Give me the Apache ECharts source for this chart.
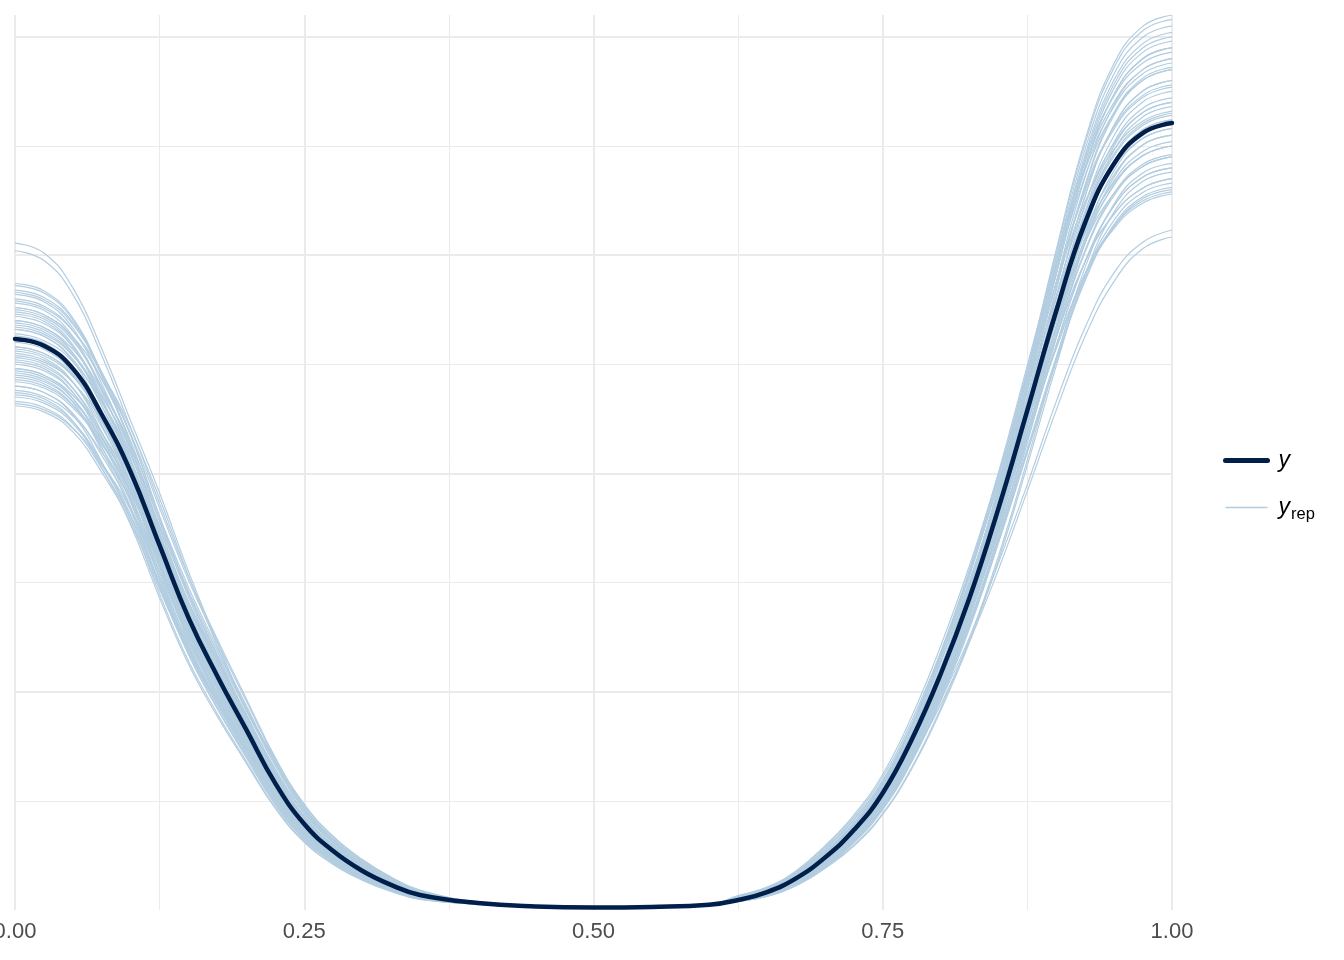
<!DOCTYPE html>
<html>
<head>
<meta charset="utf-8">
<script src="https://cdn.jsdelivr.net/npm/echarts@6/dist/echarts.min.js"></script>
<style>
html,body{margin:0;padding:0;background:#fff;}
#chart{width:1344px;height:960px;}
</style>
</head>
<body>
<div id="chart"></div>
<script>
const xGrid = [0, 0.025, 0.05, 0.075, 0.1, 0.125, 0.15, 0.175, 0.2, 0.225, 0.25, 0.275, 0.3, 0.325, 0.35,
               0.4, 0.45, 0.5, 0.55, 0.6, 0.625,
               0.65, 0.675, 0.7, 0.725, 0.75, 0.775, 0.8, 0.825, 0.85, 0.875, 0.9, 0.925, 0.95, 0.975, 1];
const xTickLabels = ['0.00', '0.25', '0.50', '0.75', '1.00'];
const legendLabels = ['y', 'y_rep'];

// observed density (y)
const yObs = [2.616, 2.585, 2.48, 2.27, 2.006, 1.67, 1.338, 1.07, 0.825, 0.58, 0.394, 0.27, 0.18, 0.115, 0.069,
              0.032, 0.016, 0.011, 0.014, 0.024, 0.046,
              0.082, 0.145, 0.24, 0.366, 0.536, 0.78, 1.08, 1.43, 1.84, 2.29, 2.745, 3.15, 3.42, 3.56, 3.605];

// replicated densities (y_rep)
const yRep = [
  [2.32, 2.292, 2.206, 2.044, 1.833, 1.547, 1.269, 1.030, 0.804, 0.580, 0.404, 0.281, 0.193, 0.125, 0.075, 0.034, 0.016, 0.011, 0.013, 0.021, 0.045, 0.073, 0.130, 0.222, 0.343, 0.512, 0.755, 1.067, 1.434, 1.872, 2.382, 2.915, 3.401, 3.737, 3.901, 3.95],
  [2.35, 2.322, 2.228, 2.040, 1.802, 1.492, 1.201, 0.961, 0.740, 0.522, 0.355, 0.242, 0.162, 0.103, 0.061, 0.030, 0.015, 0.011, 0.013, 0.021, 0.044, 0.070, 0.125, 0.214, 0.330, 0.493, 0.726, 1.026, 1.379, 1.801, 2.291, 2.804, 3.272, 3.595, 3.753, 3.80],
  [2.38, 2.351, 2.263, 2.097, 1.880, 1.587, 1.302, 1.057, 0.825, 0.595, 0.414, 0.288, 0.198, 0.129, 0.077, 0.034, 0.016, 0.011, 0.013, 0.021, 0.046, 0.075, 0.133, 0.228, 0.352, 0.525, 0.774, 1.094, 1.470, 1.920, 2.442, 2.989, 3.487, 3.831, 3.999, 4.05],
  [2.40, 2.371, 2.275, 2.083, 1.841, 1.524, 1.226, 0.982, 0.756, 0.533, 0.362, 0.247, 0.166, 0.106, 0.062, 0.030, 0.015, 0.011, 0.013, 0.022, 0.052, 0.085, 0.148, 0.248, 0.376, 0.551, 0.799, 1.110, 1.469, 1.887, 2.350, 2.816, 3.234, 3.511, 3.654, 3.70],
  [2.42, 2.391, 2.301, 2.132, 1.912, 1.614, 1.324, 1.074, 0.839, 0.605, 0.421, 0.293, 0.201, 0.131, 0.079, 0.034, 0.016, 0.011, 0.013, 0.021, 0.045, 0.072, 0.128, 0.220, 0.339, 0.505, 0.745, 1.053, 1.416, 1.849, 2.352, 2.878, 3.358, 3.689, 3.851, 3.90],
  [2.44, 2.411, 2.313, 2.118, 1.871, 1.549, 1.247, 0.998, 0.769, 0.542, 0.368, 0.251, 0.168, 0.107, 0.063, 0.030, 0.015, 0.011, 0.013, 0.022, 0.051, 0.083, 0.144, 0.241, 0.365, 0.536, 0.778, 1.080, 1.429, 1.836, 2.286, 2.740, 3.146, 3.416, 3.555, 3.60],
  [2.46, 2.430, 2.325, 2.103, 1.830, 1.483, 1.169, 0.920, 0.697, 0.482, 0.322, 0.216, 0.143, 0.089, 0.051, 0.027, 0.014, 0.011, 0.013, 0.022, 0.054, 0.089, 0.154, 0.258, 0.391, 0.574, 0.832, 1.155, 1.529, 1.964, 2.445, 2.930, 3.365, 3.654, 3.802, 3.85],
  [2.48, 2.450, 2.358, 2.185, 1.959, 1.654, 1.357, 1.101, 0.859, 0.620, 0.432, 0.300, 0.206, 0.134, 0.081, 0.035, 0.016, 0.011, 0.013, 0.021, 0.046, 0.075, 0.134, 0.231, 0.356, 0.531, 0.783, 1.107, 1.488, 1.943, 2.472, 3.026, 3.530, 3.879, 4.049, 4.10],
  [2.50, 2.470, 2.370, 2.170, 1.918, 1.588, 1.278, 1.023, 0.788, 0.555, 0.378, 0.258, 0.173, 0.110, 0.065, 0.030, 0.015, 0.011, 0.013, 0.022, 0.050, 0.081, 0.140, 0.235, 0.355, 0.522, 0.756, 1.050, 1.390, 1.785, 2.223, 2.664, 3.059, 3.322, 3.456, 3.50],
  [2.52, 2.490, 2.389, 2.187, 1.933, 1.600, 1.288, 1.031, 0.794, 0.559, 0.381, 0.260, 0.174, 0.111, 0.066, 0.030, 0.015, 0.011, 0.013, 0.021, 0.043, 0.069, 0.123, 0.211, 0.326, 0.486, 0.716, 1.013, 1.361, 1.778, 2.261, 2.768, 3.229, 3.548, 3.703, 3.75],
  [2.54, 2.510, 2.416, 2.238, 2.007, 1.694, 1.389, 1.128, 0.880, 0.635, 0.442, 0.307, 0.211, 0.137, 0.083, 0.035, 0.016, 0.011, 0.013, 0.022, 0.048, 0.078, 0.136, 0.228, 0.345, 0.507, 0.734, 1.020, 1.350, 1.734, 2.159, 2.587, 2.972, 3.227, 3.358, 3.40],
  [2.56, 2.529, 2.419, 2.189, 1.905, 1.544, 1.216, 0.957, 0.726, 0.502, 0.335, 0.225, 0.148, 0.092, 0.053, 0.027, 0.014, 0.011, 0.013, 0.021, 0.045, 0.073, 0.130, 0.222, 0.343, 0.512, 0.755, 1.067, 1.434, 1.872, 2.382, 2.915, 3.401, 3.737, 3.901, 3.95],
  [2.58, 2.549, 2.446, 2.239, 1.979, 1.638, 1.318, 1.055, 0.813, 0.573, 0.390, 0.266, 0.178, 0.114, 0.067, 0.030, 0.015, 0.011, 0.013, 0.022, 0.052, 0.084, 0.146, 0.245, 0.370, 0.544, 0.788, 1.095, 1.449, 1.862, 2.318, 2.778, 3.190, 3.464, 3.604, 3.65],
  [2.60, 2.569, 2.457, 2.223, 1.934, 1.568, 1.235, 0.972, 0.737, 0.510, 0.341, 0.229, 0.151, 0.094, 0.054, 0.027, 0.014, 0.011, 0.013, 0.021, 0.041, 0.065, 0.116, 0.200, 0.308, 0.460, 0.678, 0.959, 1.289, 1.683, 2.141, 2.620, 3.057, 3.358, 3.506, 3.55],
  [2.62, 2.589, 2.484, 2.274, 2.010, 1.664, 1.339, 1.072, 0.825, 0.582, 0.396, 0.270, 0.181, 0.115, 0.068, 0.031, 0.015, 0.011, 0.014, 0.024, 0.060, 0.099, 0.169, 0.277, 0.410, 0.587, 0.835, 1.139, 1.487, 1.884, 2.301, 2.705, 3.060, 3.284, 3.407, 3.45],
  [2.64, 2.608, 2.511, 2.326, 2.086, 1.761, 1.444, 1.172, 0.915, 0.660, 0.459, 0.319, 0.219, 0.143, 0.086, 0.035, 0.016, 0.011, 0.013, 0.021, 0.044, 0.071, 0.126, 0.217, 0.334, 0.499, 0.735, 1.040, 1.398, 1.825, 2.322, 2.841, 3.315, 3.642, 3.802, 3.85],
  [2.66, 2.628, 2.514, 2.274, 1.979, 1.604, 1.264, 0.995, 0.754, 0.521, 0.348, 0.234, 0.154, 0.096, 0.055, 0.027, 0.014, 0.011, 0.013, 0.022, 0.047, 0.076, 0.132, 0.221, 0.335, 0.492, 0.713, 0.990, 1.310, 1.683, 2.096, 2.511, 2.884, 3.132, 3.259, 3.30],
  [2.68, 2.648, 2.541, 2.326, 2.056, 1.702, 1.369, 1.096, 0.844, 0.595, 0.405, 0.276, 0.185, 0.118, 0.070, 0.031, 0.015, 0.011, 0.013, 0.021, 0.042, 0.068, 0.121, 0.208, 0.321, 0.480, 0.707, 0.999, 1.343, 1.754, 2.231, 2.731, 3.186, 3.500, 3.654, 3.70],
  [2.70, 2.668, 2.552, 2.309, 2.009, 1.628, 1.283, 1.010, 0.765, 0.529, 0.354, 0.238, 0.157, 0.097, 0.056, 0.027, 0.014, 0.011, 0.013, 0.022, 0.051, 0.083, 0.144, 0.241, 0.365, 0.536, 0.778, 1.080, 1.429, 1.836, 2.286, 2.740, 3.146, 3.416, 3.555, 3.60],
  [2.72, 2.687, 2.579, 2.361, 2.086, 1.727, 1.390, 1.112, 0.857, 0.604, 0.411, 0.280, 0.188, 0.120, 0.071, 0.031, 0.015, 0.011, 0.014, 0.024, 0.059, 0.096, 0.164, 0.269, 0.398, 0.570, 0.811, 1.106, 1.444, 1.829, 2.234, 2.626, 2.971, 3.189, 3.308, 3.35],
  [2.74, 2.707, 2.589, 2.343, 2.039, 1.652, 1.302, 1.025, 0.777, 0.537, 0.359, 0.241, 0.159, 0.099, 0.057, 0.027, 0.014, 0.011, 0.013, 0.021, 0.045, 0.073, 0.130, 0.222, 0.343, 0.512, 0.755, 1.067, 1.434, 1.872, 2.382, 2.915, 3.401, 3.737, 3.901, 3.95],
  [2.76, 2.727, 2.616, 2.396, 2.117, 1.753, 1.410, 1.129, 0.869, 0.613, 0.417, 0.284, 0.190, 0.121, 0.072, 0.031, 0.015, 0.011, 0.013, 0.022, 0.050, 0.081, 0.140, 0.235, 0.355, 0.522, 0.756, 1.050, 1.390, 1.785, 2.223, 2.664, 3.059, 3.322, 3.456, 3.50],
  [2.78, 2.747, 2.627, 2.377, 2.068, 1.676, 1.321, 1.040, 0.788, 0.545, 0.364, 0.245, 0.161, 0.100, 0.058, 0.027, 0.014, 0.011, 0.013, 0.022, 0.048, 0.078, 0.136, 0.228, 0.345, 0.507, 0.734, 1.020, 1.350, 1.734, 2.159, 2.587, 2.972, 3.227, 3.358, 3.40],
  [2.80, 2.766, 2.654, 2.430, 2.148, 1.778, 1.431, 1.145, 0.882, 0.622, 0.423, 0.288, 0.193, 0.123, 0.073, 0.031, 0.015, 0.011, 0.013, 0.021, 0.044, 0.070, 0.125, 0.214, 0.330, 0.493, 0.726, 1.026, 1.379, 1.801, 2.291, 2.804, 3.272, 3.595, 3.753, 3.80],
  [2.82, 2.786, 2.665, 2.411, 2.098, 1.700, 1.340, 1.055, 0.799, 0.553, 0.369, 0.248, 0.164, 0.102, 0.059, 0.027, 0.014, 0.011, 0.014, 0.024, 0.058, 0.094, 0.161, 0.264, 0.390, 0.558, 0.794, 1.082, 1.414, 1.791, 2.188, 2.572, 2.909, 3.123, 3.239, 3.28],
  [2.84, 2.806, 2.692, 2.465, 2.178, 1.803, 1.451, 1.162, 0.895, 0.630, 0.429, 0.293, 0.196, 0.125, 0.074, 0.031, 0.015, 0.011, 0.013, 0.022, 0.051, 0.082, 0.142, 0.238, 0.360, 0.529, 0.767, 1.065, 1.409, 1.811, 2.254, 2.702, 3.103, 3.369, 3.506, 3.55],
  [2.87, 2.836, 2.712, 2.454, 2.135, 1.731, 1.363, 1.073, 0.814, 0.563, 0.376, 0.253, 0.166, 0.103, 0.060, 0.028, 0.014, 0.011, 0.013, 0.022, 0.049, 0.079, 0.138, 0.231, 0.350, 0.514, 0.745, 1.035, 1.370, 1.760, 2.191, 2.626, 3.015, 3.274, 3.407, 3.45],
  [2.45, 2.421, 2.330, 2.158, 1.936, 1.634, 1.340, 1.088, 0.849, 0.613, 0.426, 0.296, 0.203, 0.132, 0.080, 0.035, 0.016, 0.011, 0.014, 0.024, 0.059, 0.096, 0.164, 0.269, 0.398, 0.570, 0.811, 1.106, 1.444, 1.829, 2.234, 2.626, 2.971, 3.189, 3.308, 3.35],
  [2.36, 2.332, 2.237, 2.048, 1.810, 1.499, 1.206, 0.965, 0.743, 0.524, 0.356, 0.243, 0.163, 0.104, 0.061, 0.030, 0.015, 0.011, 0.014, 0.024, 0.062, 0.101, 0.172, 0.281, 0.416, 0.595, 0.847, 1.155, 1.509, 1.911, 2.335, 2.744, 3.105, 3.332, 3.456, 3.50],
  [2.66, 2.628, 2.522, 2.309, 2.040, 1.689, 1.359, 1.088, 0.838, 0.591, 0.402, 0.274, 0.184, 0.117, 0.069, 0.031, 0.015, 0.011, 0.013, 0.021, 0.046, 0.074, 0.131, 0.225, 0.347, 0.518, 0.764, 1.080, 1.452, 1.896, 2.412, 2.952, 3.444, 3.784, 3.950, 4.00],
  [2.53, 2.500, 2.391, 2.163, 1.882, 1.526, 1.202, 0.946, 0.717, 0.496, 0.331, 0.223, 0.147, 0.091, 0.053, 0.027, 0.014, 0.011, 0.013, 0.022, 0.055, 0.090, 0.156, 0.261, 0.396, 0.581, 0.842, 1.170, 1.548, 1.989, 2.477, 2.968, 3.409, 3.701, 3.851, 3.90],
  [2.70, 2.668, 2.568, 2.379, 2.133, 1.801, 1.477, 1.199, 0.936, 0.675, 0.470, 0.327, 0.224, 0.146, 0.088, 0.036, 0.016, 0.011, 0.013, 0.021, 0.042, 0.067, 0.119, 0.204, 0.314, 0.469, 0.691, 0.977, 1.314, 1.716, 2.183, 2.672, 3.117, 3.425, 3.575, 3.62],
  [2.58, 2.549, 2.454, 2.273, 2.038, 1.721, 1.411, 1.146, 0.894, 0.645, 0.449, 0.312, 0.214, 0.139, 0.084, 0.035, 0.016, 0.011, 0.013, 0.022, 0.053, 0.087, 0.151, 0.253, 0.384, 0.563, 0.817, 1.134, 1.501, 1.928, 2.400, 2.877, 3.304, 3.587, 3.733, 3.78],
  [2.48, 2.450, 2.344, 2.120, 1.845, 1.495, 1.178, 0.928, 0.703, 0.486, 0.325, 0.218, 0.144, 0.089, 0.052, 0.027, 0.014, 0.011, 0.013, 0.021, 0.042, 0.068, 0.121, 0.207, 0.319, 0.477, 0.703, 0.994, 1.336, 1.744, 2.219, 2.716, 3.169, 3.481, 3.634, 3.68],
  [2.62, 2.589, 2.476, 2.240, 1.949, 1.580, 1.245, 0.980, 0.743, 0.514, 0.343, 0.231, 0.152, 0.094, 0.054, 0.027, 0.014, 0.011, 0.013, 0.021, 0.046, 0.075, 0.134, 0.230, 0.354, 0.529, 0.779, 1.102, 1.481, 1.934, 2.460, 3.011, 3.513, 3.860, 4.029, 4.08],
  [2.76, 2.727, 2.625, 2.432, 2.180, 1.841, 1.510, 1.225, 0.956, 0.690, 0.480, 0.334, 0.229, 0.149, 0.090, 0.036, 0.016, 0.011, 0.013, 0.021, 0.040, 0.063, 0.112, 0.193, 0.297, 0.443, 0.653, 0.923, 1.242, 1.621, 2.062, 2.524, 2.945, 3.235, 3.377, 3.42],
  [2.40, 2.371, 2.268, 2.052, 1.786, 1.447, 1.140, 0.898, 0.680, 0.470, 0.314, 0.211, 0.139, 0.086, 0.050, 0.027, 0.014, 0.011, 0.014, 0.024, 0.063, 0.103, 0.175, 0.288, 0.425, 0.609, 0.866, 1.181, 1.543, 1.955, 2.388, 2.807, 3.175, 3.408, 3.535, 3.58],
  [2.33, 2.302, 2.209, 2.022, 1.787, 1.480, 1.191, 0.953, 0.734, 0.517, 0.352, 0.240, 0.161, 0.103, 0.061, 0.030, 0.015, 0.011, 0.013, 0.022, 0.048, 0.077, 0.133, 0.223, 0.338, 0.496, 0.719, 0.999, 1.322, 1.698, 2.115, 2.534, 2.910, 3.160, 3.288, 3.33],
  [2.31, 2.282, 2.190, 2.005, 1.772, 1.467, 1.180, 0.945, 0.728, 0.513, 0.349, 0.238, 0.159, 0.102, 0.060, 0.030, 0.015, 0.011, 0.013, 0.022, 0.043, 0.067, 0.119, 0.204, 0.314, 0.469, 0.691, 0.977, 1.314, 1.716, 2.183, 2.672, 3.117, 3.425, 3.575, 3.62],
  [2.37, 2.342, 2.240, 2.026, 1.763, 1.429, 1.126, 0.886, 0.672, 0.465, 0.310, 0.209, 0.137, 0.085, 0.049, 0.027, 0.014, 0.011, 0.013, 0.022, 0.056, 0.089, 0.155, 0.260, 0.394, 0.578, 0.838, 1.164, 1.540, 1.979, 2.464, 2.953, 3.391, 3.682, 3.832, 3.88],
  [2.43, 2.401, 2.311, 2.141, 1.920, 1.621, 1.329, 1.079, 0.842, 0.608, 0.423, 0.294, 0.202, 0.131, 0.079, 0.035, 0.016, 0.011, 0.013, 0.021, 0.051, 0.080, 0.138, 0.232, 0.351, 0.516, 0.747, 1.038, 1.374, 1.765, 2.197, 2.633, 3.024, 3.284, 3.417, 3.46],
  [2.47, 2.440, 2.342, 2.144, 1.894, 1.568, 1.262, 1.010, 0.778, 0.548, 0.373, 0.254, 0.170, 0.109, 0.064, 0.030, 0.015, 0.011, 0.013, 0.022, 0.047, 0.073, 0.131, 0.224, 0.346, 0.516, 0.760, 1.075, 1.445, 1.887, 2.400, 2.937, 3.427, 3.765, 3.930, 3.98],
  [2.51, 2.480, 2.372, 2.146, 1.867, 1.514, 1.192, 0.939, 0.712, 0.492, 0.329, 0.221, 0.146, 0.090, 0.052, 0.027, 0.014, 0.011, 0.014, 0.024, 0.066, 0.105, 0.179, 0.294, 0.435, 0.622, 0.886, 1.208, 1.578, 1.998, 2.441, 2.869, 3.246, 3.484, 3.614, 3.66],
  [2.55, 2.519, 2.417, 2.213, 1.956, 1.619, 1.303, 1.043, 0.803, 0.566, 0.385, 0.263, 0.176, 0.112, 0.066, 0.030, 0.015, 0.011, 0.013, 0.022, 0.049, 0.076, 0.132, 0.222, 0.336, 0.493, 0.715, 0.993, 1.314, 1.688, 2.102, 2.519, 2.893, 3.141, 3.269, 3.31],
  [2.57, 2.539, 2.444, 2.264, 2.030, 1.714, 1.406, 1.141, 0.891, 0.643, 0.447, 0.311, 0.213, 0.139, 0.084, 0.035, 0.016, 0.011, 0.013, 0.021, 0.044, 0.068, 0.122, 0.209, 0.323, 0.482, 0.711, 1.004, 1.350, 1.763, 2.243, 2.745, 3.203, 3.519, 3.674, 3.72],
  [2.61, 2.579, 2.474, 2.265, 2.002, 1.657, 1.334, 1.067, 0.822, 0.579, 0.394, 0.269, 0.180, 0.115, 0.068, 0.030, 0.015, 0.011, 0.013, 0.022, 0.057, 0.090, 0.157, 0.263, 0.399, 0.586, 0.849, 1.179, 1.560, 2.004, 2.496, 2.991, 3.435, 3.730, 3.881, 3.93],
  [2.63, 2.598, 2.485, 2.249, 1.957, 1.586, 1.249, 0.984, 0.746, 0.515, 0.345, 0.231, 0.153, 0.095, 0.055, 0.027, 0.014, 0.011, 0.013, 0.021, 0.040, 0.062, 0.111, 0.190, 0.293, 0.438, 0.646, 0.913, 1.227, 1.602, 2.038, 2.494, 2.910, 3.198, 3.338, 3.38],
  [2.67, 2.638, 2.539, 2.352, 2.109, 1.781, 1.460, 1.185, 0.925, 0.668, 0.465, 0.323, 0.222, 0.144, 0.087, 0.035, 0.016, 0.011, 0.013, 0.022, 0.052, 0.081, 0.141, 0.236, 0.357, 0.525, 0.760, 1.056, 1.397, 1.795, 2.235, 2.679, 3.077, 3.341, 3.476, 3.52],
  [2.69, 2.658, 2.550, 2.335, 2.063, 1.708, 1.375, 1.100, 0.847, 0.597, 0.406, 0.277, 0.186, 0.118, 0.070, 0.030, 0.015, 0.011, 0.013, 0.021, 0.047, 0.074, 0.132, 0.226, 0.349, 0.521, 0.768, 1.085, 1.459, 1.906, 2.424, 2.967, 3.461, 3.803, 3.970, 4.02],
  [2.73, 2.697, 2.580, 2.334, 2.031, 1.646, 1.297, 1.021, 0.774, 0.535, 0.358, 0.240, 0.158, 0.098, 0.057, 0.027, 0.014, 0.011, 0.013, 0.022, 0.055, 0.087, 0.151, 0.253, 0.383, 0.562, 0.814, 1.131, 1.497, 1.923, 2.394, 2.869, 3.295, 3.578, 3.723, 3.77],
  [2.75, 2.717, 2.607, 2.387, 2.109, 1.746, 1.405, 1.125, 0.866, 0.611, 0.415, 0.283, 0.190, 0.121, 0.072, 0.030, 0.015, 0.011, 0.014, 0.024, 0.060, 0.095, 0.161, 0.265, 0.391, 0.559, 0.796, 1.086, 1.418, 1.796, 2.194, 2.579, 2.918, 3.132, 3.249, 3.29],
  [2.79, 2.757, 2.653, 2.458, 2.204, 1.861, 1.526, 1.239, 0.967, 0.698, 0.485, 0.338, 0.232, 0.151, 0.091, 0.036, 0.016, 0.011, 0.013, 0.021, 0.043, 0.066, 0.117, 0.202, 0.311, 0.464, 0.684, 0.967, 1.300, 1.697, 2.159, 2.642, 3.082, 3.387, 3.535, 3.58],
  [2.83, 2.796, 2.683, 2.456, 2.171, 1.797, 1.446, 1.157, 0.891, 0.628, 0.427, 0.291, 0.195, 0.125, 0.074, 0.031, 0.015, 0.011, 0.013, 0.021, 0.046, 0.071, 0.127, 0.217, 0.335, 0.500, 0.737, 1.042, 1.401, 1.830, 2.328, 2.849, 3.324, 3.652, 3.812, 3.86],
  [2.86, 2.826, 2.703, 2.445, 2.128, 1.725, 1.359, 1.070, 0.811, 0.561, 0.375, 0.252, 0.166, 0.103, 0.059, 0.028, 0.014, 0.011, 0.013, 0.022, 0.053, 0.084, 0.146, 0.244, 0.370, 0.542, 0.786, 1.092, 1.445, 1.856, 2.311, 2.770, 3.181, 3.454, 3.595, 3.64],
  [3.055, 3.01, 2.85, 2.57, 2.24, 1.91, 1.55, 1.225, 0.92, 0.69, 0.47, 0.32, 0.21, 0.13, 0.078, 0.034, 0.016, 0.011, 0.013, 0.021, 0.040, 0.065, 0.12, 0.20, 0.32, 0.48, 0.70, 0.96, 1.25, 1.59, 1.95, 2.33, 2.67, 2.92, 3.06, 3.115],
  [3.02, 2.975, 2.82, 2.54, 2.21, 1.885, 1.53, 1.21, 0.91, 0.68, 0.46, 0.31, 0.205, 0.127, 0.076, 0.034, 0.016, 0.011, 0.013, 0.021, 0.039, 0.063, 0.117, 0.195, 0.31, 0.47, 0.69, 0.94, 1.23, 1.56, 1.92, 2.29, 2.63, 2.88, 3.03, 3.083]
];

const FONT = 'Liberation Sans, Arial, Helvetica, sans-serif';
const chart = echarts.init(document.getElementById('chart'), null, {renderer: 'canvas'});

const toPairs = vals => xGrid.map((x, i) => [x, vals[i]]);
const SMOOTH = 0.45;

const repSeries = yRep.map(vals => ({
  type: 'line',
  name: legendLabels[1],
  data: toPairs(vals),
  symbol: 'none',
  showSymbol: false,
  smooth: SMOOTH,
  silent: true,
  animation: false,
  z: 2,
  itemStyle: {color: '#b3cde0'},
  lineStyle: {color: '#b3cde0', width: 1.2, opacity: 1}
}));

const obsSeries = {
  type: 'line',
  name: legendLabels[0],
  data: toPairs(yObs),
  symbol: 'none',
  showSymbol: false,
  smooth: SMOOTH,
  silent: true,
  animation: false,
  z: 3,
  itemStyle: {color: '#011f4b'},
  lineStyle: {color: '#011f4b', width: 4.5, cap: 'round', join: 'round'}
};

const option = {
  backgroundColor: '#ffffff',
  animation: false,
  grid: {left: 15, right: 172, top: 15, bottom: 50, containLabel: false, outerBoundsMode: 'none'},
  xAxis: [
    {
      type: 'value', min: 0, max: 1, interval: 0.25, gridIndex: 0,
      axisLine: {show: false}, axisTick: {show: false},
      axisLabel: {
        show: true, margin: 11, fontSize: 22, color: '#4d4d4d', fontFamily: FONT,
        formatter: v => xTickLabels[Math.round(v / 0.25)]
      },
      splitLine: {show: true, lineStyle: {color: '#ebebeb', width: 2}}, z: 1
    },
    {
      type: 'value', min: 0, max: 1, interval: 0.125, gridIndex: 0,
      axisLine: {show: false}, axisTick: {show: false}, axisLabel: {show: false},
      splitLine: {show: true, lineStyle: {color: '#ebebeb', width: 1}}, z: 0
    }
  ],
  yAxis: [
    {
      type: 'value', min: 0, max: 4.1, interval: 1, gridIndex: 0,
      axisLine: {show: false}, axisTick: {show: false}, axisLabel: {show: false},
      splitLine: {show: true, showMinLine: false, showMaxLine: false, lineStyle: {color: '#ebebeb', width: 2}}, z: 1
    },
    {
      type: 'value', min: 0, max: 4.1, interval: 0.5, gridIndex: 0,
      axisLine: {show: false}, axisTick: {show: false}, axisLabel: {show: false},
      splitLine: {show: true, showMinLine: false, showMaxLine: false, lineStyle: {color: '#ebebeb', width: 1}}, z: 0
    }
  ],
  legend: {
    show: true,
    orient: 'vertical',
    left: 1218,
    top: 444,
    itemWidth: 42,
    itemHeight: 14,
    itemGap: 24,
    selectedMode: false,
    itemStyle: {opacity: 0},
    data: [
      {name: legendLabels[0], lineStyle: {width: 5, cap: 'round', color: '#011f4b'}},
      {name: legendLabels[1], lineStyle: {width: 1.3, color: '#b3cde0', opacity: 1}}
    ],
    formatter: name => name === 'y' ? '{i|y}' : '{i|y}{s|rep}',
    textStyle: {
      color: '#000',
      fontFamily: FONT,
      rich: {
        i: {fontStyle: 'italic', fontSize: 23, fontFamily: FONT, color: '#000', lineHeight: 30, verticalAlign: 'middle', padding: [0, 0, 0, 6]},
        s: {fontSize: 16.5, fontFamily: FONT, color: '#000', lineHeight: 30, verticalAlign: 'bottom', padding: [0, 0, 0, 1]}
      }
    }
  },
  series: [...repSeries, obsSeries]
};

chart.setOption(option);
</script>
</body>
</html>
